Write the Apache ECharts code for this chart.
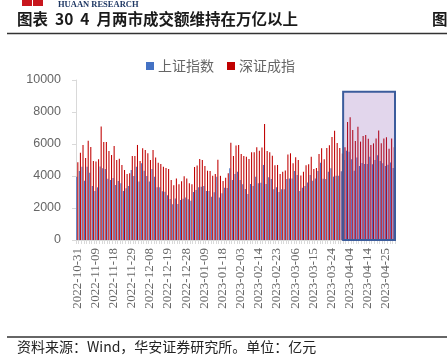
<!DOCTYPE html>
<html>
<head>
<meta charset="utf-8">
<script src="https://cdn.jsdelivr.net/npm/echarts@6/dist/echarts.min.js"></script>
<style>
html,body{margin:0;padding:0;background:#fff;}
#chart{width:447px;height:359px;}
</style>
</head>
<body>
<div id="chart"></div>
<script>
// ---- data ----
var dates = [
'2022-10-31','2022-11-01','2022-11-02','2022-11-03','2022-11-04','2022-11-07','2022-11-08','2022-11-09','2022-11-10','2022-11-11',
'2022-11-14','2022-11-15','2022-11-16','2022-11-17','2022-11-18','2022-11-21','2022-11-22','2022-11-23','2022-11-24','2022-11-25',
'2022-11-28','2022-11-29','2022-11-30','2022-12-01','2022-12-02','2022-12-05','2022-12-06','2022-12-07','2022-12-08','2022-12-09',
'2022-12-12','2022-12-13','2022-12-14','2022-12-15','2022-12-16','2022-12-19','2022-12-20','2022-12-21','2022-12-22','2022-12-23',
'2022-12-26','2022-12-27','2022-12-28','2022-12-29','2022-12-30','2023-01-03','2023-01-04','2023-01-05','2023-01-06','2023-01-09',
'2023-01-10','2023-01-11','2023-01-12','2023-01-13','2023-01-16','2023-01-17','2023-01-18','2023-01-19','2023-01-20','2023-01-30',
'2023-01-31','2023-02-01','2023-02-02','2023-02-03','2023-02-06','2023-02-07','2023-02-08','2023-02-09','2023-02-10','2023-02-13',
'2023-02-14','2023-02-15','2023-02-16','2023-02-17','2023-02-20','2023-02-21','2023-02-22','2023-02-23','2023-02-24','2023-02-27',
'2023-02-28','2023-03-01','2023-03-02','2023-03-03','2023-03-06','2023-03-07','2023-03-08','2023-03-09','2023-03-10','2023-03-13',
'2023-03-14','2023-03-15','2023-03-16','2023-03-17','2023-03-20','2023-03-21','2023-03-22','2023-03-23','2023-03-24','2023-03-27',
'2023-03-28','2023-03-29','2023-03-30','2023-03-31','2023-04-03','2023-04-04','2023-04-06','2023-04-07','2023-04-10','2023-04-11',
'2023-04-12','2023-04-13','2023-04-14','2023-04-17','2023-04-18','2023-04-19','2023-04-20','2023-04-21','2023-04-24','2023-04-25',
'2023-04-26','2023-04-27','2023-04-28'
];
var shanghai = [
3960,4310,4580,3710,4580,4200,3375,3060,3290,4600,
4480,4440,3830,3750,3870,3440,3690,3540,3060,3230,
3375,4375,4000,4580,3650,4790,4330,4000,3650,4440,
3960,3290,3290,3040,3020,2800,2560,2230,2600,2250,
2500,2580,2650,2540,2460,3000,3125,3290,3330,3375,
3060,3060,2710,2980,3960,2650,2920,3270,3250,4480,
3750,4125,4270,3750,3480,3190,2875,3500,3375,3960,
3540,3580,4690,3500,3920,3810,3170,3290,3000,3170,
3170,3810,3850,3850,4310,4060,3060,3270,3375,3600,
4060,3700,3850,4310,4830,3830,3810,4270,4480,3960,
4020,4020,4300,5000,5580,5520,5040,4330,5150,4625,
4810,4750,4750,5210,4730,5000,5290,4940,4790,4625,
4700,4850,4500
];
var shenzhen = [
4855,5460,5940,5125,6210,5810,4940,4900,5040,7100,
6125,6125,5560,5310,5875,5000,5080,4690,4375,4125,
4170,5250,5250,5940,4940,5730,5625,5420,5000,5625,
5150,4830,4750,4580,4500,4440,3750,3420,3850,3480,
3670,3980,3850,3540,3480,4560,4660,5060,5000,4625,
4330,4310,4020,4125,5010,4010,3690,3890,4170,6080,
5250,5900,5940,5375,5250,5210,5060,5480,5480,5790,
5580,5780,7250,5560,5480,5270,4670,4690,4125,4270,
4350,5350,5420,4790,5170,5000,4030,4260,4670,4730,
5210,4440,4500,5375,5730,5040,5750,5920,6440,6830,
6060,5750,5400,5800,7375,7670,6875,6190,7080,6150,
6500,6560,6330,5940,6040,6350,6850,6040,6350,6420,
5700,6350,5800
];
var seriesNames = ['上证指数', '深证成指'];
var yTicks = [0, 2000, 4000, 6000, 8000, 10000];
var highlightStart = '2023-03-31';
var highlightEnd = '2023-04-28';
var highlightTop = 9270;

var titleText = '图表  30  4  月两市成交额维持在万亿以上';
var sourceText = '资料来源：Wind，华安证券研究所。单位：亿元';

var chart = echarts.init(document.getElementById('chart'), null, {renderer: 'canvas'});
var cjk = '"Noto Sans CJK SC", sans-serif';

var option = {
  animation: false,
  backgroundColor: '#fff',
  grid: {left: 76, right: 52, top: 80, bottom: 119, containLabel: false},
  legend: {
    data: seriesNames,
    left: 141, top: 54,
    icon: 'rect', itemWidth: 8, itemHeight: 8, itemGap: 13,
    textStyle: {fontFamily: cjk, fontSize: 14, color: '#666666', padding: [0,0,0,-1]}
  },
  xAxis: {
    type: 'category',
    data: dates,
    boundaryGap: true,
    axisLine: {show: true, lineStyle: {color: '#d9d9d9', width: 1}},
    axisTick: {show: true, interval: 0, length: 4, lineStyle: {color: '#d9d9d9'}},
    axisLabel: {
      interval: 6, rotate: 90, margin: 8,
      fontFamily: '"Liberation Serif", serif', fontSize: 13, color: '#666666'
    },
    splitLine: {show: false}
  },
  yAxis: {
    type: 'value',
    min: yTicks[0], max: yTicks[yTicks.length - 1], interval: 2000,
    axisLine: {show: true, lineStyle: {color: '#d9d9d9'}},
    axisTick: {show: true, length: 4, lineStyle: {color: '#d9d9d9'}},
    axisLabel: {
      margin: 15, fontFamily: '"Liberation Sans", Arial, sans-serif', fontSize: 12.5, color: '#666666',
      formatter: function (v) { return String(v); }
    },
    splitLine: {show: false}
  },
  series: [
    {
      name: seriesNames[0], type: 'bar', data: shanghai,
      itemStyle: {color: '#4472C4'},
      barGap: '0%', barCategoryGap: '18%'
    },
    {
      name: seriesNames[1], type: 'bar', data: shenzhen,
      itemStyle: {color: '#C00000'},
      barGap: '0%', barCategoryGap: '18%',
      markArea: {
        silent: true,
        z: 10,
        itemStyle: {color: 'rgba(112,48,160,0.2)', borderColor: '#3B5C9C', borderWidth: 2, opacity: 1},
        data: [[{xAxis: highlightStart, yAxis: 0}, {xAxis: highlightEnd, yAxis: highlightTop}]]
      }
    }
  ],
  graphic: [
    {type: 'rect', shape: {x: 22, y: 0, width: 21, height: 6}, style: {fill: '#C8161D'}},
    {type: 'rect', shape: {x: 32, y: 0, width: 1, height: 6}, style: {fill: '#fff'}},
    {type: 'text', left: 58, top: 0, style: {text: 'HUAAN RESEARCH', font: 'bold 8.5px "Liberation Serif", serif', fill: '#1F3864'}},
    {type: 'text', left: 17, top: 11, style: {text: titleText, font: 'bold 15.5px "Noto Sans CJK SC", sans-serif', fill: '#1a1a1a'}},
    {type: 'text', left: 432, top: 11, style: {text: '图', font: 'bold 15.5px "Noto Sans CJK SC", sans-serif', fill: '#1a1a1a'}},
    {type: 'line', shape: {x1: 7, y1: 33.5, x2: 447, y2: 33.5}, style: {stroke: '#333', lineWidth: 1.5}},
    {type: 'line', shape: {x1: 7, y1: 337, x2: 447, y2: 337}, style: {stroke: '#333', lineWidth: 1.5}},
    {type: 'text', left: 17, top: 340, style: {text: sourceText, font: '14px "Noto Sans CJK SC", sans-serif', fill: '#222'}}
  ]
};
chart.setOption(option);
</script>
</body>
</html>
